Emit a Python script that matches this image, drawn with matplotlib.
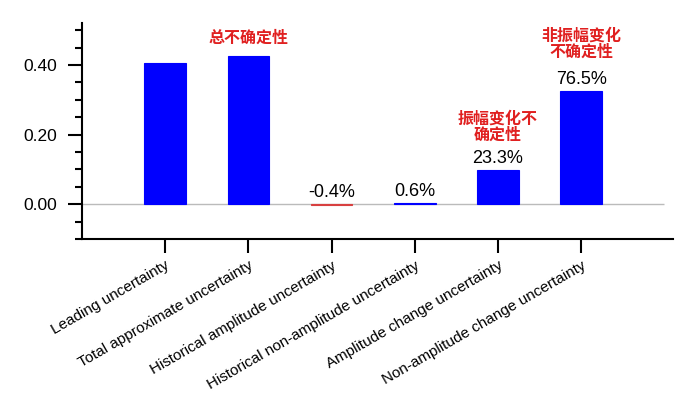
import matplotlib
matplotlib.use("Agg")
import matplotlib.pyplot as plt
from matplotlib.ticker import MultipleLocator, FixedLocator

plt.rcParams['font.family'] = ['Liberation Sans', 'Noto Sans CJK SC', 'DejaVu Sans']

# Data
categories = ["Leading uncertainty", "Total approximate uncertainty",
              "Historical amplitude uncertainty", "Historical non-amplitude uncertainty",
              "Amplitude change uncertainty", "Non-amplitude change uncertainty"]
values = [0.407, 0.427, -0.0017, 0.0026, 0.0995, 0.3265]
pct_labels = [None, None, "-0.4%", "0.6%", "23.3%", "76.5%"]
cn_labels = [None, "总不确定性", None, None, "振幅变化不\n确定性", "非振幅变化\n不确定性"]
cn_offsets = [0, 10, 0, 0, 27, 31]  # pixels above bar top

BLUE = "#0000ff"
RED = "#d84040"

fig = plt.figure(figsize=(7, 3.93), dpi=100)
ax = fig.add_axes([0.117, 0.392, 0.844, 0.549])

x = list(range(len(categories)))
colors = [RED if v < 0 else BLUE for v in values]
ax.bar(x, values, width=0.5, color=colors, edgecolor=colors, linewidth=0.8, zorder=3)
ax.hlines(0, -1, 6.0, color="#bbbbbb", linewidth=1, zorder=2)

ax.set_xlim(-1, 6.1)
ax.set_ylim(-0.1, 0.52)

# y ticks
ax.yaxis.set_major_locator(FixedLocator([0.0, 0.2, 0.4]))
ax.yaxis.set_minor_locator(MultipleLocator(0.05))
ax.set_yticklabels(["0.00", "0.20", "0.40"])
ax.tick_params(axis='y', which='major', length=10, width=1.5, labelsize=12.5, pad=8)
ax.tick_params(axis='y', which='minor', length=5, width=1.5)

# x ticks
ax.set_xticks(x)
ax.set_xticklabels(categories, rotation=30, ha='right', va='top',
                   rotation_mode='anchor', fontsize=11)
ax.tick_params(axis='x', which='major', length=10, width=1.5, pad=4)
ax.tick_params(axis='x', which='minor', bottom=False)

for s in ["top", "right"]:
    ax.spines[s].set_visible(False)
for s in ["left", "bottom"]:
    ax.spines[s].set_linewidth(1.5)

# annotations
for i, v in enumerate(values):
    top = max(v, 0)
    if pct_labels[i]:
        ax.annotate(pct_labels[i], xy=(i, top), xytext=(0, 3),
                    textcoords='offset pixels', ha='center', va='bottom',
                    fontsize=13, color='black')
    if cn_labels[i]:
        ax.annotate(cn_labels[i], xy=(i, top), xytext=(0, cn_offsets[i]),
                    textcoords='offset pixels', ha='center', va='bottom',
                    fontsize=11.5, fontweight='bold', color='#e02020',
                    linespacing=1.05)

fig.savefig("out.png", dpi=100)
